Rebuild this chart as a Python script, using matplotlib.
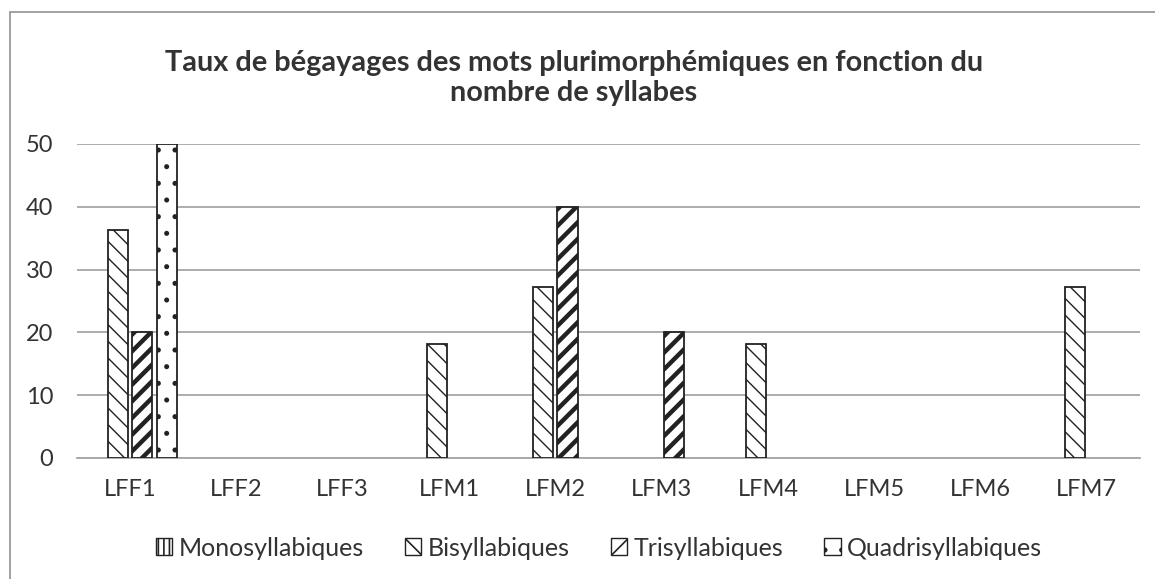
import matplotlib
matplotlib.use("Agg")
import matplotlib.pyplot as plt
import matplotlib.patches as mpatches
import numpy as np

# Taux de bégayages (%) par locuteur et par nombre de syllabes
locuteurs = ["LFF1", "LFF2", "LFF3", "LFM1", "LFM2", "LFM3", "LFM4", "LFM5", "LFM6", "LFM7"]
monosyllabiques = [0, 0, 0, 0, 0, 0, 0, 0, 0, 0]
bisyllabiques = [36.36, 0, 0, 18.18, 27.27, 0, 18.18, 0, 0, 27.27]
trisyllabiques = [20, 0, 0, 0, 40, 20, 0, 0, 0, 0]
quadrisyllabiques = [50, 0, 0, 0, 0, 0, 0, 0, 0, 0]

series = [
    ("Monosyllabiques", monosyllabiques, "|||"),
    ("Bisyllabiques", bisyllabiques, "\\\\"),
    ("Trisyllabiques", trisyllabiques, "//"),
    ("Quadrisyllabiques", quadrisyllabiques, "."),
]
hatch_widths = [1.0, 1.0, 3.2, 1.2]

plt.rcParams["font.family"] = ["Lato", "DejaVu Sans"]

fig = plt.figure(figsize=(11.55, 5.79), dpi=100)
ax = fig.add_axes([77 / 1155, 1 - 458 / 579, (1140 - 77) / 1155, (458 - 144) / 579])

# cadre du graphique
fig.patches.append(mpatches.Rectangle((10 / 1155, -0.1), 1.2, 1 - 12 / 579 + 0.1,
                                      transform=fig.transFigure, fill=False,
                                      edgecolor="#9a9a9a", linewidth=1.3))

x = np.arange(len(locuteurs))
step = 0.23
width = 0.19
handles = []
for i, (name, values, hatch) in enumerate(series):
    values = np.array(values, dtype=float)
    pos = x + (i - 1.5) * step
    mask = values > 0
    plt.rcParams["hatch.linewidth"] = hatch_widths[i]
    bars = ax.bar(pos[mask], values[mask], width=width, facecolor="white",
                  edgecolor="#222222", linewidth=1.3, hatch=hatch, zorder=3)
    for b in bars:
        if hasattr(b, "set_hatch_linewidth"):
            b.set_hatch_linewidth(hatch_widths[i])
    h = mpatches.Patch(facecolor="white", edgecolor="#222222", linewidth=1.0,
                       hatch=hatch, label=name)
    if hasattr(h, "set_hatch_linewidth"):
        h.set_hatch_linewidth(hatch_widths[i])
    handles.append(h)

ax.set_xlim(-0.5, len(locuteurs) - 0.5)
ax.set_ylim(0, 50)
ax.set_yticks(np.arange(0, 51, 10))
ax.set_xticks(x)
ax.set_xticklabels(locuteurs)
ax.yaxis.grid(True, color="#a6a6a6", linewidth=1.3, zorder=0)
ax.set_axisbelow(True)
for side in ["top", "right", "left"]:
    ax.spines[side].set_visible(False)
ax.spines["bottom"].set_color("#a6a6a6")
ax.spines["bottom"].set_linewidth(1.3)
ax.tick_params(axis="both", length=0, labelsize=17, colors="#333333")
ax.tick_params(axis="y", pad=17)
ax.tick_params(axis="x", pad=15)

fig.text(0.497, 1 - 78 / 579, "Taux de bégayages des mots plurimorphémiques en fonction du\nnombre de syllabes",
         ha="center", va="center", fontsize=20.8, fontweight="bold", color="#333333",
         linespacing=1.2)

fig.legend(handles=handles, loc="center", ncol=4, frameon=False,
           bbox_to_anchor=(599 / 1155, 1 - 548 / 579), fontsize=18,
           handlelength=0.65, handleheight=0.65, handletextpad=0.25, columnspacing=1.65,
           labelcolor="#333333")

fig.savefig("out.png", dpi=100)
